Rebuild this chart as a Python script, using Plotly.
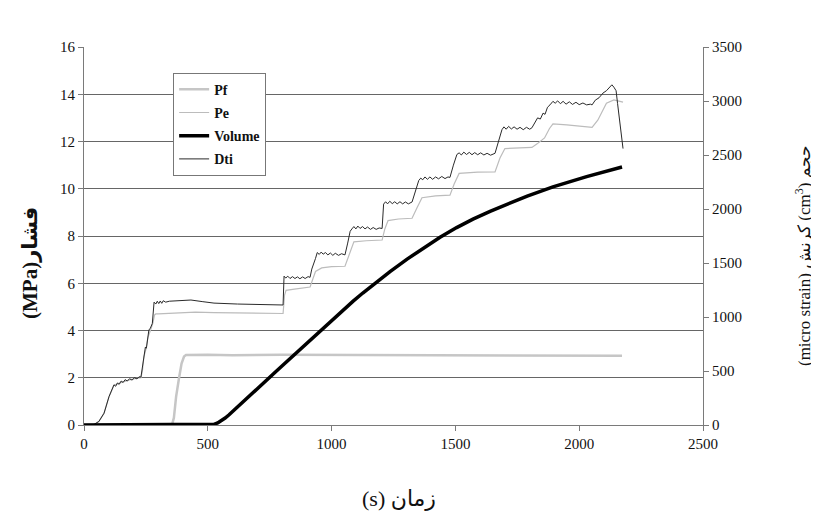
import plotly.graph_objects as go

# ---------------- data ----------------
pf_t = [0, 355, 363, 372, 384, 394, 404, 412, 500, 600, 800, 1000, 1200, 1400, 1600, 1800, 2000, 2173]
pf_v = [0, 0, 0.3, 1.2, 2.0, 2.6, 2.9, 2.96, 2.97, 2.95, 2.97, 2.96, 2.95, 2.95, 2.94, 2.94, 2.93, 2.93]

pe_t = [0, 40, 60, 81, 101, 121, 140, 160, 180, 200, 230, 236, 242, 250, 258, 268, 278, 285, 290, 300, 330,
        380, 450, 525, 620, 700, 804, 810, 816, 850, 880, 913, 925, 935, 960, 1000, 1054, 1070, 1090, 1140,
        1204, 1215, 1228, 1270, 1325, 1345, 1365, 1420, 1478, 1495, 1515, 1590, 1660, 1680, 1700, 1760,
        1809, 1830, 1860, 1880, 1894, 1950, 2000, 2052, 2075, 2095, 2110, 2140, 2160, 2177]
pe_v = [0, 0.02, 0.15, 0.5, 1.2, 1.68, 1.76, 1.84, 1.9, 1.95, 2.0, 2.3, 2.9, 3.2, 3.7, 4.0, 4.3, 4.66, 4.7, 4.7, 4.72,
        4.76, 4.78, 4.76, 4.74, 4.72, 4.72, 5.5, 5.7, 5.75, 5.78, 5.84, 6.2, 6.5, 6.65, 6.7, 6.72, 7.2, 7.75, 7.8,
        7.83, 8.3, 8.65, 8.72, 8.75, 9.2, 9.62, 9.7, 9.73, 10.2, 10.65, 10.7, 10.71, 11.3, 11.7, 11.73,
        11.75, 11.9, 12.15, 12.55, 12.75, 12.7, 12.65, 12.6, 12.9, 13.3, 13.62, 13.76, 13.7, 13.67]

vol_t = [0, 509, 525, 540, 555, 570, 586, 602, 635, 670, 705, 739, 772, 804, 838, 872, 906, 941, 973,
         1006, 1046, 1086, 1126, 1167, 1236, 1305, 1370, 1438, 1505, 1571, 1640, 1692, 1790, 1894, 2030, 2173]
vol_v = [0, 0, 6, 20, 40, 65, 95, 128, 198, 272, 346, 418, 488, 555, 627, 698, 770, 845, 914,
         984, 1066, 1145, 1222, 1298, 1420, 1536, 1638, 1738, 1828, 1906, 1978, 2030, 2120, 2205, 2300, 2389]

dti_t = [0, 40, 60, 81, 101, 112, 121, 128, 135, 142, 150, 158, 166, 175, 184, 194, 204, 214, 222, 230,
         236, 242, 248, 252, 256, 262, 268, 276, 283, 290, 296, 302, 308, 314, 320, 330, 345, 380, 432,
         480, 525, 620, 700, 760, 804, 808, 815, 823, 832, 842, 852, 862, 872, 883, 893, 905, 913, 920,
         928, 935, 942, 950, 958, 966, 975, 985, 995, 1005, 1015, 1028, 1040, 1054, 1065, 1075, 1082,
         1090, 1098, 1106, 1115, 1125, 1135, 1145, 1157, 1168, 1180, 1192, 1204, 1210, 1218, 1226, 1235,
         1245, 1255, 1265, 1276, 1287, 1298, 1310, 1325, 1340, 1352, 1360, 1368, 1377, 1387, 1397, 1408,
         1420, 1432, 1445, 1458, 1470, 1478, 1492, 1506, 1515, 1524, 1534, 1545, 1556, 1567, 1578, 1590,
         1602, 1615, 1628, 1642, 1660, 1675, 1688, 1696, 1705, 1715, 1726, 1737, 1749, 1761, 1774, 1787,
         1800, 1809, 1820, 1832, 1843, 1854, 1862, 1872, 1882, 1894, 1903, 1913, 1924, 1935, 1947, 1960,
         1973, 1987, 2000, 2015, 2030, 2045, 2052, 2065, 2080, 2096, 2110, 2122, 2132, 2140, 2149, 2155,
         2162, 2170, 2177]
dti_v = [0, 0.02, 0.15, 0.5, 1.2, 1.5, 1.7, 1.64, 1.78, 1.72, 1.86, 1.8, 1.92, 1.86, 1.96, 1.9, 2.0, 1.95,
         2.04, 2.03, 2.4, 2.96, 3.3, 3.25, 3.6, 4.02, 4.1, 4.3, 5.2, 5.12, 5.24, 5.14, 5.25, 5.15, 5.26, 5.2,
         5.24, 5.26, 5.29, 5.22, 5.16, 5.12, 5.1, 5.09, 5.08, 6.3, 6.22, 6.3, 6.2, 6.28, 6.2, 6.27, 6.19,
         6.27, 6.2, 6.28, 6.25, 6.6, 6.9, 7.05, 7.3, 7.22, 7.32, 7.23, 7.3, 7.2, 7.28, 7.18, 7.27, 7.18,
         7.25, 7.2, 7.7, 8.2, 8.3, 8.4, 8.3, 8.42, 8.32, 8.4, 8.3, 8.38, 8.28, 8.36, 8.28, 8.34, 8.32, 9.35,
         9.45, 9.36, 9.47, 9.37, 9.45, 9.36, 9.45, 9.36, 9.44, 9.36, 9.44, 9.9, 10.35, 10.45, 10.38, 10.5,
         10.4, 10.5, 10.4, 10.5, 10.42, 10.52, 10.43, 10.5, 10.48, 11.0, 11.45, 11.52, 11.43, 11.55, 11.45,
         11.54, 11.44, 11.53, 11.44, 11.52, 11.43, 11.5, 11.42, 11.5, 12.0, 12.5, 12.62, 12.52, 12.64,
         12.53, 12.62, 12.52, 12.6, 12.5, 12.6, 12.52, 12.58, 12.8, 13.0, 12.95, 13.2, 13.15, 13.45, 13.55,
         13.7, 13.62, 13.72, 13.6, 13.7, 13.58, 13.68, 13.57, 13.66, 13.56, 13.63, 13.55, 13.58, 13.55,
         13.75, 13.85, 14.05, 14.15, 14.3, 14.4, 14.3, 14.15, 13.6, 13.0, 12.3, 11.7]

x_ticks = [0, 500, 1000, 1500, 2000, 2500]
y_ticks = [0, 2, 4, 6, 8, 10, 12, 14, 16]
y2_ticks = [0, 500, 1000, 1500, 2000, 2500, 3000, 3500]

# ---------------- figure ----------------
FONT = "'Liberation Serif', 'Times New Roman', 'DejaVu Sans', serif"

fig = go.Figure()
fig.add_trace(go.Scatter(x=pf_t, y=pf_v, name="Pf", mode="lines", legendgroup="a",
                         line=dict(color="#c6c6c6", width=2.5)))
fig.add_trace(go.Scatter(x=pe_t, y=pe_v, name="Pe", mode="lines", legendgroup="b",
                         line=dict(color="#bcbcbc", width=1.2)))
fig.add_trace(go.Scatter(x=vol_t, y=vol_v, name="Volume", mode="lines", yaxis="y2", legendgroup="c",
                         line=dict(color="#000000", width=3.5)))
fig.add_trace(go.Scatter(x=dti_t, y=dti_v, name="Dti", mode="lines", legendgroup="d",
                         line=dict(color="#2a2a2a", width=1)))

axis_common = dict(showline=True, linecolor="#7a7a7a", linewidth=1, ticks="outside",
                   ticklen=5, tickcolor="#7a7a7a", tickfont=dict(family=FONT, size=15, color="#111"))

# page body has an 8px margin, so the figure is drawn 8px in from the top-left corner
fig.update_layout(
    width=811, height=512,
    margin=dict(l=76, r=116, t=39, b=95),
    paper_bgcolor="white", plot_bgcolor="white",
    font=dict(family=FONT, color="#111"),
    showlegend=True,
    legend=dict(x=0.144, y=0.932, xanchor="left", yanchor="top",
                bgcolor="white", bordercolor="#777", borderwidth=1,
                font=dict(family=FONT, size=14, color="#111", weight="bold"),
                traceorder="grouped", tracegroupgap=2),
    xaxis=dict(range=[0, 2500], tickvals=x_ticks, showgrid=False, zeroline=False, **axis_common),
    yaxis=dict(range=[0, 16], tickvals=y_ticks, showgrid=True, gridcolor="#666", gridwidth=1,
               zeroline=False, **axis_common),
    yaxis2=dict(range=[0, 3500], tickvals=y2_ticks, overlaying="y", side="right", showgrid=False,
                zeroline=False, **axis_common),
    annotations=[
        dict(text="<b>(MPa)فشار</b>", xref="paper", yref="paper", x=0, y=0.4286, xshift=-54,
             textangle=-90, showarrow=False, xanchor="center", yanchor="middle",
             font=dict(family=FONT, size=21, color="#111")),
        dict(text="(micro strain) کرنش (cm<sup>3</sup>) حجم", xref="paper", yref="paper", x=1, y=0.447,
             xshift=100, textangle=-90, showarrow=False, xanchor="center", yanchor="middle",
             font=dict(family=FONT, size=17, color="#111")),
        dict(text="(s) زمان", xref="paper", yref="paper", x=0.509, y=0, yshift=-73,
             showarrow=False, xanchor="center", yanchor="middle",
             font=dict(family=FONT, size=22, color="#111")),
    ],
)

fig.write_html("out.html")
